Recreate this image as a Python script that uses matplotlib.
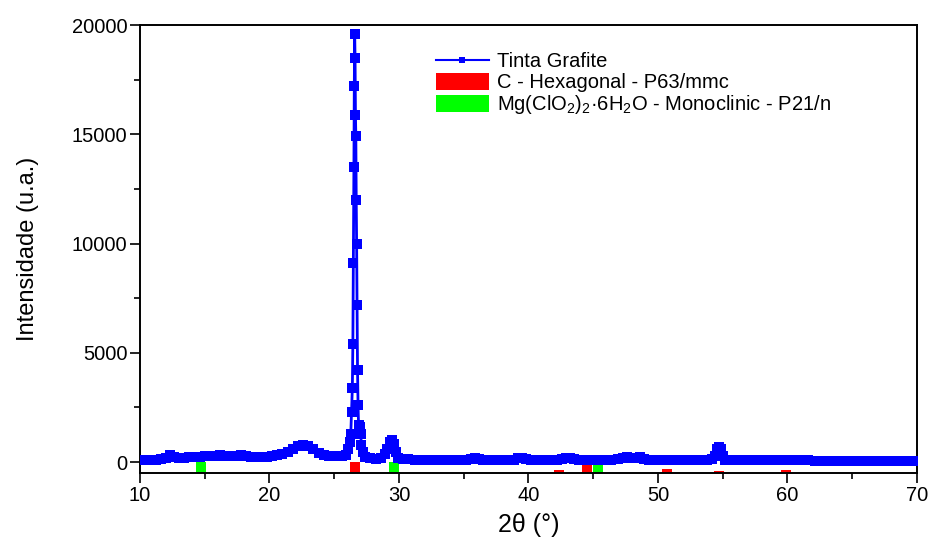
import matplotlib
matplotlib.use("Agg")
import matplotlib.pyplot as plt
from matplotlib.patches import Patch
from matplotlib.lines import Line2D


plt.rcParams["font.family"] = ["Liberation Sans", "DejaVu Sans"]
plt.rcParams["mathtext.fontset"] = "custom"
plt.rcParams["mathtext.rm"] = "Liberation Sans"
plt.rcParams["mathtext.it"] = "Liberation Sans:italic"

# XRD pattern (2theta in degrees, intensity in a.u.)
two_theta = [
    10.0, 10.4, 10.8, 11.2, 11.6, 12.0, 12.3, 12.6, 13.0, 13.4,
    13.8, 14.2, 14.6, 15.0, 15.4, 15.8, 16.2, 16.6, 17.0, 17.4,
    17.8, 18.2, 18.6, 19.0, 19.4, 19.8, 20.2, 20.6, 21.0, 21.4,
    21.8, 22.2, 22.6, 23.0, 23.4, 23.8, 24.2, 24.6, 25.0, 25.3,
    25.6, 25.9, 26.1, 26.2, 26.28, 26.34, 26.4, 26.44, 26.48, 26.52,
    26.55, 26.58, 26.61, 26.64, 26.67, 26.7, 26.73, 26.76, 26.8, 26.84,
    26.88, 26.93, 26.98, 27.04, 27.1, 27.2, 27.4, 27.8, 28.2, 28.6,
    28.9, 29.1, 29.3, 29.45, 29.6, 29.75, 29.95, 30.3, 30.7, 31.2,
    31.7, 32.2, 32.7, 33.2, 33.7, 34.2, 34.7, 35.2, 35.6, 35.9,
    36.2, 36.5, 36.9, 37.4, 37.9, 38.4, 38.9, 39.2, 39.5, 39.8,
    40.2, 40.7, 41.2, 41.7, 42.2, 42.6, 42.9, 43.2, 43.5, 43.9,
    44.4, 44.9, 45.4, 45.9, 46.4, 46.9, 47.3, 47.6, 47.9, 48.2,
    48.6, 48.9, 49.3, 49.8, 50.3, 50.8, 51.3, 51.8, 52.3, 52.8,
    53.3, 53.8, 54.2, 54.4, 54.55, 54.7, 54.85, 55.0, 55.2, 55.5,
    56.0, 56.5, 57.0, 57.4, 57.8, 58.3, 58.8, 59.3, 59.8, 60.3,
    60.7, 61.1, 61.6, 62.1, 62.6, 63.1, 63.6, 64.1, 64.6, 65.1,
    65.6, 66.1, 66.6, 67.1, 67.6, 68.1, 68.6, 69.1, 69.6, 70.0,
]

intensity = [
    100, 105, 110, 115, 125, 190, 310, 250, 170, 185,
    210, 235, 255, 270, 290, 300, 305, 300, 295, 300,
    340, 270, 220, 220, 235, 250, 270, 320, 380, 470,
    600, 720, 790, 740, 580, 430, 320, 270, 270, 300,
    270, 330, 600, 900, 1300, 2300, 3400, 5400, 9100, 13500,
    17200, 19600, 18500, 15900, 14900, 12000, 10000, 7200, 4200, 2600,
    1700, 1400, 1600, 1300, 800, 450, 250, 170, 160, 200,
    350, 600, 900, 1000, 850, 450, 200, 130, 120, 115,
    110, 110, 105, 105, 105, 100, 100, 105, 140, 175,
    160, 115, 100, 95, 95, 95, 100, 170, 190, 130,
    95, 90, 90, 90, 95, 120, 170, 190, 130, 95,
    90, 85, 90, 100, 110, 130, 190, 240, 190, 180,
    210, 150, 100, 85, 80, 80, 75, 75, 75, 75,
    75, 80, 120, 300, 620, 690, 600, 280, 110, 80,
    75, 75, 85, 110, 85, 75, 75, 75, 80, 85,
    100, 85, 75, 70, 70, 70, 65, 65, 65, 65,
    60, 60, 60, 60, 55, 55, 55, 55, 50, 50,
]

# Reference pattern sticks (drawn upward from the bottom of the axes)
c_hex_pos = [26.6, 42.35, 44.55, 50.7, 54.7, 59.85]
c_hex_height = [500, 135, 470, 180, 90, 135]

mg_pos = [14.75, 29.6, 45.35]
mg_height = [500, 500, 470]

y_bottom = -500

fig = plt.figure(figsize=(9.3, 5.38), dpi=100)
ax = fig.add_axes([0.1505, 0.1208, 0.8355, 0.8327])

ax.bar(c_hex_pos, c_hex_height, bottom=y_bottom, width=0.77,
       color="#ff0000", zorder=2)
ax.bar(mg_pos, mg_height, bottom=y_bottom, width=0.77,
       color="#00ff00", zorder=2)

ax.plot(two_theta, intensity, color="#0000ff", linewidth=2,
        marker="s", markersize=6.5, markeredgewidth=0, zorder=3)

ax.set_xlim(10, 70)
ax.set_ylim(y_bottom, 20000)
ax.set_xticks([10, 20, 30, 40, 50, 60, 70])
ax.set_xticks([15, 25, 35, 45, 55, 65], minor=True)
ax.set_yticks([0, 5000, 10000, 15000, 20000])
ax.set_yticks([2500, 7500, 12500, 17500], minor=True)

ax.tick_params(which="both", direction="out", width=1.2,
               top=False, right=False, labelsize=14.5, pad=2)
ax.tick_params(which="major", length=7)
ax.tick_params(which="minor", length=4)

for spine in ax.spines.values():
    spine.set_linewidth(1.4)

ax.set_xlabel("2θ (°)", fontsize=18, labelpad=6)
ax.set_ylabel("Intensidade (u.a.)", fontsize=17, labelpad=24)

handles = [
    Line2D([], [], color="#0000ff", linewidth=1.5, marker="s",
           markersize=5, markeredgewidth=0),
    Patch(facecolor="#ff0000", edgecolor="none"),
    Patch(facecolor="#00ff00", edgecolor="none"),
]
labels = [
    "Tinta Grafite",
    "C - Hexagonal - P63/mmc",
    r"Mg(ClO$_2$)$_2$·6H$_2$O - Monoclinic - P21/n",
]
ax.legend(handles, labels, loc="upper left", bbox_to_anchor=(0.371, 0.958),
          frameon=False, fontsize=14.5, handlelength=2.6, handleheight=0.95,
          handletextpad=0.4, labelspacing=0.05, borderaxespad=0)

fig.savefig("out.png", dpi=100)
